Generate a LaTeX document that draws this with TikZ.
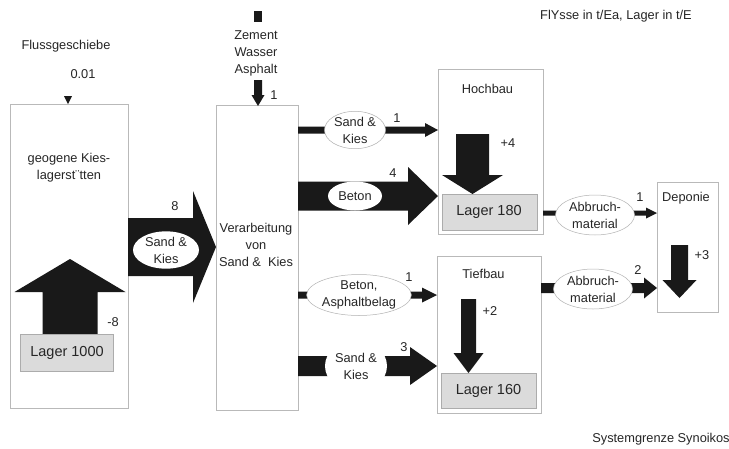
\documentclass[tikz,border=0pt]{standalone}
\usepackage{fontspec}
\setmainfont{Liberation Sans}
\usetikzlibrary{shapes.geometric,calc}
\definecolor{flowc}{gray}{0.1}
\definecolor{txtc}{gray}{0.15}
% horizontal block arrow: from node #1 (east) to node #2 (west) at y=#3
% #4 head length, #5 half shaft, #6 half head
\newcommand\flowh[6]{%
 \pgfmathsetmacro\fya{#3-#5}\pgfmathsetmacro\fyb{#3+#5}%
 \pgfmathsetmacro\fyc{#3-#6}\pgfmathsetmacro\fyd{#3+#6}%
 \fill[flow] (#1.east |- 0,\fya) -- ($(#2.west |- 0,\fya)+(-#4,0)$)
   -- ($(#2.west |- 0,\fyc)+(-#4,0)$) -- (#2.west |- 0,#3)
   -- ($(#2.west |- 0,\fyd)+(-#4,0)$) -- ($(#2.west |- 0,\fyb)+(-#4,0)$)
   -- (#1.east |- 0,\fyb) -- cycle;}
% vertical block arrow: x=#1, from y #2 to tip y #3, head length #4 (signed)
\newcommand\flowv[6]{%
 \pgfmathsetmacro\fxa{#1-#5}\pgfmathsetmacro\fxb{#1+#5}%
 \pgfmathsetmacro\fxc{#1-#6}\pgfmathsetmacro\fxd{#1+#6}\pgfmathsetmacro\fyh{#3-#4}%
 \fill[flow] (\fxa,#2) -- (\fxa,\fyh) -- (\fxc,\fyh) -- (#1,#3) -- (\fxd,\fyh)
   -- (\fxb,\fyh) -- (\fxb,#2) -- cycle;}
\begin{document}
\begin{tikzpicture}[x=1pt,y=-1pt,
  flow/.style={fill=flowc},
  sysbox/.style={draw=gray!55,line width=0.6pt,fill=white,anchor=north west,inner sep=0pt,outer sep=0pt},
  lagerbox/.style={draw=gray!65,line width=0.6pt,fill=gray!28,anchor=north west,inner sep=0pt,outer sep=0pt,
     font=\fontsize{14.5}{17}\selectfont,text=txtc},
  lbl/.style={font=\fontsize{12.8}{17}\selectfont,text=txtc,inner sep=0pt,align=center},
  ell/.style={ellipse,draw=gray!60,line width=0.5pt,fill=white,inner sep=0pt,
     font=\fontsize{12.8}{17}\selectfont,text=txtc,align=center},
  ellnb/.style={ellipse,fill=white,inner sep=0pt,
     font=\fontsize{12.8}{17}\selectfont,text=txtc,align=center}]
\useasboundingbox[fill=white] (0,0) rectangle (729,448);

% system boxes
\node[sysbox,minimum width=118pt,minimum height=304pt] (geo) at (10,104) {};
\node[sysbox,minimum width=82pt,minimum height=305pt] (verarb) at (216,105) {};
\node[sysbox,minimum width=105pt,minimum height=165pt] (hoch) at (438,69) {};
\node[sysbox,minimum width=104pt,minimum height=157pt] (tief) at (437,256) {};
\node[sysbox,minimum width=61pt,minimum height=130pt] (depo) at (657,182) {};

% flows between boxes
\flowh{geo}{verarb}{247}{23}{29}{56}
\flowh{verarb}{hoch}{130}{13}{3.5}{7}
\flowh{verarb}{hoch}{196}{30}{14.5}{29}
\flowh{verarb}{tief}{295}{15}{3.5}{7.5}
\flowh{verarb}{tief}{366}{27}{10}{19}
\flowh{hoch}{depo}{213}{11}{2.5}{5.5}
\flowh{tief}{depo}{288}{13}{5}{10.5}

% vertical flows
\flowv{70}{334}{259}{-33}{27.5}{55.5}
\flowv{258}{80}{106}{11}{4}{6.5}
\flowv{472.5}{134}{194}{19}{16.5}{30.5}
\flowv{679.5}{245}{298}{18}{8.5}{17}
\flowv{468.5}{299}{373}{20}{7.5}{15}
\fill[flow] (254,11) rectangle (262,22);
\fill[flow] (64,96) -- (72,96) -- (68,104) -- cycle;

% stocks
\node[lagerbox,minimum width=93pt,minimum height=37pt] (lager1) at (20,334) {};
\node[lagerbox,minimum width=95pt,minimum height=36pt] (lager2) at (442,194) {};
\node[lagerbox,minimum width=95pt,minimum height=35pt] (lager3) at (441,373) {};
\node[lbl,font=\fontsize{14.5}{17}\selectfont] (t_l1) at (67,353) {Lager 1000};
\node[lbl,font=\fontsize{14.5}{17}\selectfont] (t_l2) at (489,212) {Lager 180};
\node[lbl,font=\fontsize{14.5}{17}\selectfont] (t_l3) at (488.5,391) {Lager 160};

% ellipses
\node[ellnb,minimum width=66pt,minimum height=35pt] (e1) at (166,250) {Sand \&\\Kies};
\node[ell,minimum width=61pt,minimum height=37pt] (e2) at (355,130) {Sand \&\\Kies};
\node[ellnb,minimum width=54pt,minimum height=29pt] (e3) at (355,196) {Beton};
\node[ell,minimum width=93pt,minimum height=41pt] (e4) at (359,295) {Beton,\\Asphaltbelag};
\node[ellnb,minimum width=62pt,minimum height=52pt] (e5) at (356,366) {Sand \&\\Kies};
\node[ell,minimum width=79pt,minimum height=40pt] (e6) at (595,215) {Abbruch-\\material};
\node[ell,minimum width=79pt,minimum height=40pt] (e7) at (593,289) {Abbruch-\\material};

% labels
\node[lbl] (t_fl) at (66,46) {Flussgeschiebe};
\node[lbl] (t_fln) at (83,74) {0.01};
\node[lbl] (t_zem) at (256,53) {Zement\\Wasser\\Asphalt};
\node[lbl] (t_z1) at (274,95) {1};
\node[lbl] (t_unit) at (616,16) {FlYsse in t/Ea, Lager in t/E};
\node[lbl] (t_geo) at (69,168) {geogene Kies-\\lagerst¨tten};
\node[lbl] (t_m8) at (113,322) {-8};
\node[lbl] (t_8) at (175,206) {8};
\node[lbl] (t_ver) at (256,245) {Verarbeitung\\von\\Sand \&\ \ Kies};
\node[lbl] (t_1a) at (397,118) {1};
\node[lbl] (t_4) at (393,173) {4};
\node[lbl] (t_1b) at (409,277) {1};
\node[lbl] (t_3) at (404,347) {3};
\node[lbl] (t_hoch) at (487.5,89) {Hochbau};
\node[lbl] (t_p4) at (508,143) {+4};
\node[lbl] (t_tief) at (483.5,274) {Tiefbau};
\node[lbl] (t_p2) at (490,311) {+2};
\node[lbl] (t_1c) at (640,197) {1};
\node[lbl] (t_2) at (638,270) {2};
\node[lbl] (t_dep) at (686,198) {Deponie};
\node[lbl] (t_p3) at (702,255) {+3};
\node[lbl] (t_sys) at (661,439) {Systemgrenze Synoikos};
\end{tikzpicture}
\end{document}
